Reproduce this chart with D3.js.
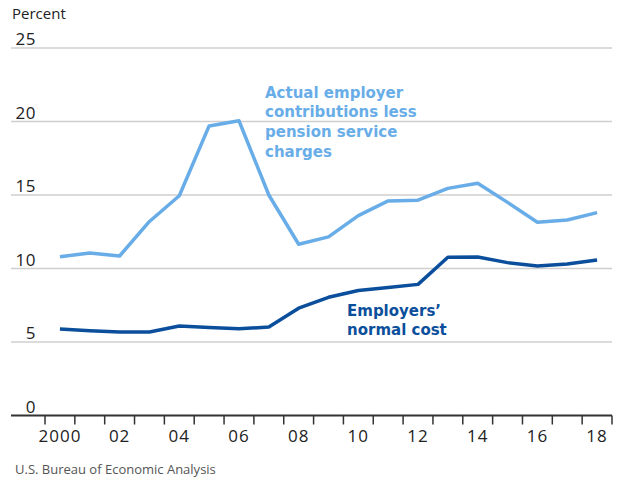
<!DOCTYPE html>
<html>
<head>
<meta charset="utf-8">
<script src="https://cdn.jsdelivr.net/npm/d3@7"></script>
<style>
body{margin:0;background:#fff;}
svg{display:block;font-family:'Open Sans',sans-serif;}
</style>
</head>
<body>
<div id="chart"></div>
<script>
var years = [2000,2001,2002,2003,2004,2005,2006,2007,2008,2009,2010,2011,2012,2013,2014,2015,2016,2017,2018];
var actual = [10.8,11.05,10.85,13.2,14.95,19.7,20.05,15.0,11.65,12.15,13.6,14.6,14.65,15.45,15.8,14.5,13.15,13.3,13.8];
var normal = [5.88,5.77,5.68,5.68,6.09,5.99,5.9,6.02,7.3,8.04,8.5,8.7,8.92,10.76,10.78,10.4,10.17,10.3,10.58];
var yTicks = [0,5,10,15,20,25];
var xLabels = ['2000','02','04','06','08','10','12','14','16','18'];
var actualLabel = ['Actual employer','contributions less','pension service','charges'];
var normalLabel = ['Employers\u2019','normal cost'];

var W = 617, H = 480;
var gridL = 11, gridR = 612, plotL = 45, plotT = 48, plotB = 415.5;
var lightBlue = '#68ade7', darkBlue = '#0b4f9c';

var svg = d3.select('#chart').append('svg').attr('width', W).attr('height', H);

var x = d3.scaleBand().domain(years).range([plotL, gridR]);
var y = d3.scaleLinear().domain([0, 25]).range([plotB, plotT]);

// gridlines
svg.append('g').selectAll('line').data(yTicks.filter(function(d){return d>0;}))
	.enter().append('line')
	.attr('x1', gridL).attr('x2', gridR)
	.attr('y1', function(d){return y(d);}).attr('y2', function(d){return y(d);})
	.attr('stroke', '#cfcfcf').attr('stroke-width', 1.5);

// y labels
svg.append('g').selectAll('text').data(yTicks)
	.enter().append('text')
	.attr('x', 36).attr('y', function(d){return y(d) - 3;})
	.attr('text-anchor', 'end')
	.attr('font-size', 17).attr('letter-spacing', 0.5).attr('fill', '#222')
	.text(function(d){return d;});

svg.append('text').attr('x', 12).attr('y', 19)
	.attr('font-size', 15).attr('fill', '#222')
	.text('Percent');

// x axis
svg.append('line')
	.attr('x1', gridL).attr('x2', gridR).attr('y1', plotB).attr('y2', plotB)
	.attr('stroke', '#333').attr('stroke-width', 2);

var tickPos = years.map(function(d){return x(d);}).concat([gridR]);
svg.append('g').selectAll('line').data(tickPos)
	.enter().append('line')
	.attr('x1', function(d){return d;}).attr('x2', function(d){return d;})
	.attr('y1', plotB).attr('y2', plotB + 9)
	.attr('stroke', '#333').attr('stroke-width', 1.5);

svg.append('g').selectAll('text').data(xLabels)
	.enter().append('text')
	.attr('x', function(d, i){return x(years[i*2]) + x.bandwidth()/2;})
	.attr('y', 442)
	.attr('text-anchor', 'middle')
	.attr('font-size', 17).attr('letter-spacing', 1).attr('fill', '#222')
	.text(function(d){return d;});

// lines
var line = function(vals){
	return d3.line()
		.x(function(d, i){return x(years[i]) + x.bandwidth()/2;})
		.y(function(d){return y(d);})(vals);
};

svg.append('path').attr('d', line(actual))
	.attr('fill', 'none').attr('stroke', lightBlue).attr('stroke-width', 3.5)
	.attr('stroke-linejoin', 'round');

svg.append('path').attr('d', line(normal))
	.attr('fill', 'none').attr('stroke', darkBlue).attr('stroke-width', 3.5)
	.attr('stroke-linejoin', 'round');

// annotations (multi-line labels)
function label(lines, px, py, color){
	var t = svg.append('text')
		.attr('x', px).attr('y', py)
		.attr('font-family', "'DejaVu Sans',sans-serif")
		.attr('font-size', 15).attr('font-weight', 'bold')
		.attr('fill', color);
	t.selectAll('tspan').data(lines).enter().append('tspan')
		.attr('x', px).attr('dy', function(d, i){return i ? 19.7 : 0;})
		.text(function(d){return d;});
}
label(actualLabel, 265, 97.5, lightBlue);
label(normalLabel, 347, 315.5, darkBlue);

svg.append('text').attr('x', 15).attr('y', 474)
	.attr('font-size', 13).attr('fill', '#555')
	.text('U.S. Bureau of Economic Analysis');
</script>
</body>
</html>
